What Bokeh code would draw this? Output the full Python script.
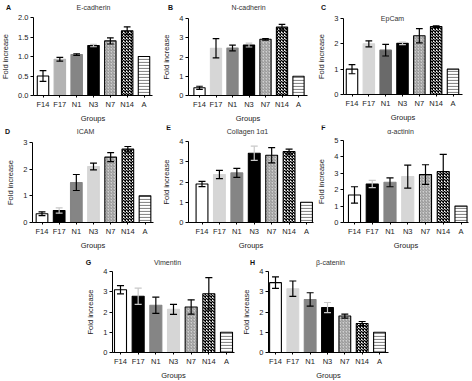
from bokeh.plotting import figure
from bokeh.layouts import column, row
from bokeh.models import Label, FixedTicker, Spacer, ColumnDataSource, Range1d
from bokeh.embed import file_html
from bokeh.resources import INLINE

groups = ["F14", "F17", "N1", "N3", "N7", "N14", "A"]

ecad_mean = [0.50, 0.93, 1.05, 1.28, 1.40, 1.66, 1.00]
ecad_err = [0.14, 0.05, 0.02, 0.03, 0.08, 0.10, 0.0]
ncad_mean = [0.40, 2.45, 2.47, 2.62, 2.92, 3.55, 1.00]
ncad_err = [0.08, 0.50, 0.15, 0.10, 0.04, 0.15, 0.0]
epcam_mean = [1.00, 2.00, 1.75, 2.02, 2.32, 2.68, 1.00]
epcam_err = [0.18, 0.12, 0.23, 0.05, 0.28, 0.03, 0.0]
icam_mean = [0.33, 0.45, 1.50, 2.10, 2.45, 2.75, 1.00]
icam_err = [0.07, 0.10, 0.30, 0.13, 0.17, 0.10, 0.0]
col_mean = [1.90, 2.37, 2.45, 3.42, 3.32, 3.50, 1.00]
col_err = [0.13, 0.20, 0.22, 0.35, 0.38, 0.12, 0.0]
act_mean = [1.68, 2.35, 2.45, 2.80, 2.92, 3.10, 1.00]
act_err = [0.50, 0.22, 0.27, 0.70, 0.60, 1.05, 0.0]
vim_mean = [3.10, 2.78, 2.33, 2.13, 2.25, 2.90, 1.00]
vim_err = [0.20, 0.40, 0.40, 0.25, 0.35, 0.80, 0.0]
bcat_mean = [3.45, 3.15, 2.62, 2.22, 1.80, 1.43, 1.00]
bcat_err = [0.28, 0.38, 0.33, 0.25, 0.10, 0.10, 0.0]

FONT = "Liberation Sans"

STYLES = {
    "white": ("#ffffff", "#000000", " ", "#000000", 1, 1),
    "light": ("#b3b3b3", "#b3b3b3", " ", "#000000", 1, 1),
    "vlight": ("#d6d6d6", "#d6d6d6", " ", "#000000", 1, 1),
    "mid": ("#858585", "#858585", " ", "#000000", 1, 1),
    "dark": ("#6a6a6a", "#6a6a6a", " ", "#000000", 1, 1),
    "black": ("#000000", "#000000", " ", "#000000", 1, 1),
    "hatch": ("#cfcfcf", "#000000", "right_diagonal_line", "#808080", 3, 0.8),
    "check": ("#ffffff", "#000000", "diagonal_cross", "#000000", 3, 1.3),
    "stripe": ("#ffffff", "#000000", "horizontal_line", "#8a8a8a", 3, 1.2),
}

scheme_a = ["white", "light", "mid", "black", "hatch", "check", "stripe"]
scheme_b = ["white", "vlight", "mid", "black", "hatch", "check", "stripe"]
scheme_c = ["white", "vlight", "dark", "black", "hatch", "check", "stripe"]
scheme_d = ["white", "black", "mid", "vlight", "hatch", "check", "stripe"]


def style_axis(ax, label, tick_out, stand, lstand):
    ax.axis_label = label
    ax.minor_tick_line_color = None
    ax.major_tick_in = 0
    ax.major_tick_out = tick_out
    ax.major_label_standoff = stand
    ax.axis_label_standoff = lstand
    ax.major_label_text_font = FONT
    ax.major_label_text_font_size = "7.5px"
    ax.major_label_text_color = "#222222"
    ax.axis_label_text_font = FONT
    ax.axis_label_text_font_size = "7.5px"
    ax.axis_label_text_font_style = "normal"
    ax.axis_label_text_color = "#222222"
    ax.axis_line_color = "#000000"
    ax.major_tick_line_color = "#000000"


def panel(letter, title, means, errs, scheme, ymax, yticks, ylabels, geo):
    # geo: figure box and pixel landmarks (absolute picture pixels)
    fx, fy, w, h = geo["fig"]
    ax_l, ax_r = geo["xaxis"]
    y0px, ytpx = geo["yaxis"]
    c0, c6 = geo["centers"]
    sx = (c6 - c0) / 6.0
    sy = (y0px - ytpx) / ymax
    x_start = -(c0 - fx) / sx
    x_end = 6 + (fx + w - c6) / sx
    y_start = -(fy + h - y0px) / sy
    y_end = ymax + (ytpx - fy) / sy
    axis_x = -(c0 - ax_l) / sx
    axis_xr = 6 + (ax_r - c6) / sx

    p = figure(width=w, height=h, x_range=Range1d(x_start, x_end),
               y_range=Range1d(y_start, y_end), min_border=0,
               output_backend="svg", toolbar_location=None)
    p.outline_line_color = None
    p.xgrid.visible = False
    p.ygrid.visible = False

    xs = list(range(len(groups)))
    st = [STYLES[k] for k in scheme]
    src = ColumnDataSource(dict(
        x=xs, top=means,
        fill=[s[0] for s in st], line=[s[1] for s in st], hp=[s[2] for s in st],
        hc=[s[3] for s in st], hs=[s[4] for s in st], hw=[s[5] for s in st]))
    p.vbar(x="x", top="top", bottom=0, width=0.68, source=src, fill_color="fill",
           line_color="line", line_width=1.1, hatch_pattern="hp", hatch_color="hc",
           hatch_scale="hs", hatch_weight="hw")

    ecol = ["#c8c8c8" if k == "black" else "#000000" for k in scheme]
    keep = [i for i in xs if errs[i] > 0]
    esrc = ColumnDataSource(dict(
        x=[xs[i] for i in keep],
        lo=[means[i] - errs[i] for i in keep],
        hi=[means[i] + errs[i] for i in keep],
        xl=[xs[i] - 0.2 for i in keep], xr=[xs[i] + 0.2 for i in keep],
        c=[ecol[i] for i in keep]))
    p.segment(x0="x", y0="lo", x1="x", y1="hi", line_color="c", line_width=1.2, source=esrc)
    p.segment(x0="xl", y0="hi", x1="xr", y1="hi", line_color="c", line_width=1.2, source=esrc)
    p.segment(x0="xl", y0="lo", x1="xr", y1="lo", line_color="c", line_width=1.2, source=esrc)

    ya = p.yaxis[0]
    ya.fixed_location = axis_x
    ya.bounds = (0, ymax)
    ya.ticker = FixedTicker(ticks=yticks)
    ya.major_label_overrides = {t: l for t, l in zip(yticks, ylabels)}
    style_axis(ya, "Fold increase", 3, 2, 5)

    xa = p.xaxis[0]
    xa.fixed_location = 0
    xa.bounds = (axis_x, axis_xr)
    xa.ticker = FixedTicker(ticks=xs)
    xa.major_label_overrides = {i: g for i, g in zip(xs, groups)}
    style_axis(xa, "Groups", 2, 2, 2)

    lx, ly = geo["letter"]
    tx, ty = geo["title"]
    p.add_layout(Label(x=lx - fx, y=fy + h - ly, x_units="screen", y_units="screen",
                       text=letter, text_font=FONT, text_font_size="7px",
                       text_font_style="bold", text_align="center", text_baseline="middle",
                       text_color="#111111"))
    p.add_layout(Label(x=tx - fx, y=fy + h - ty, x_units="screen", y_units="screen",
                       text=title, text_font=FONT, text_font_size="7px",
                       text_align="center", text_baseline="middle", text_color="#333333"))
    return p


GEO = {
    "A": dict(fig=(0, 0, 155, 125), xaxis=(33, 152), yaxis=(95, 17), centers=(42.5, 143.5),
              letter=(8, 7), title=(93, 7)),
    "B": dict(fig=(155, 0, 155, 125), xaxis=(188, 307), yaxis=(95, 18), centers=(199, 298),
              letter=(170, 7), title=(248, 7)),
    "C": dict(fig=(310, 0, 162, 125), xaxis=(343, 462), yaxis=(94, 18), centers=(351.5, 452.5),
              letter=(323, 7), title=(392, 18)),
    "D": dict(fig=(0, 125, 155, 125), xaxis=(32, 153), yaxis=(222, 142), centers=(41.5, 144.5),
              letter=(7, 131), title=(85, 131)),
    "E": dict(fig=(155, 125, 160, 125), xaxis=(188, 313), yaxis=(222, 141), centers=(201.5, 306),
              letter=(168, 127), title=(247, 131)),
    "F": dict(fig=(315, 125, 157, 125), xaxis=(343, 468), yaxis=(222, 140), centers=(354, 460.5),
              letter=(323, 127), title=(400, 131)),
    "G": dict(fig=(80, 250, 155, 131), xaxis=(112, 234), yaxis=(352, 271), centers=(120, 226),
              letter=(88, 262), title=(167, 262)),
    "H": dict(fig=(235, 250, 160, 131), xaxis=(268, 388), yaxis=(352, 271), centers=(275, 379),
              letter=(252, 262), title=(330, 262)),
}

half = [0, 0.5, 1.0, 1.5, 2.0]
half_l = ["0.0", "0.5", "1.0", "1.5", "2.0"]


def ints(n):
    return list(range(n + 1)), [str(i) for i in range(n + 1)]


pa = panel("A", "E-cadherin", ecad_mean, ecad_err, scheme_a, 2.0, half, half_l, GEO["A"])
pb = panel("B", "N-cadherin", ncad_mean, ncad_err, scheme_b, 4, *ints(4), GEO["B"])
pc = panel("C", "EpCam", epcam_mean, epcam_err, scheme_c, 3, *ints(3), GEO["C"])
pd = panel("D", "ICAM", icam_mean, icam_err, scheme_d, 3, *ints(3), GEO["D"])
pe = panel("E", "Collagen 1\u03b11", col_mean, col_err, scheme_b, 4, *ints(4), GEO["E"])
pf = panel("F", "\u03b1-actinin", act_mean, act_err, scheme_d, 5, *ints(5), GEO["F"])
pg = panel("G", "Vimentin", vim_mean, vim_err, scheme_d, 4, *ints(4), GEO["G"])
ph = panel("H", "\u03b2-catenin", bcat_mean, bcat_err, scheme_b, 4, *ints(4), GEO["H"])

layout = column(
    row(pa, pb, pc),
    row(pd, pe, pf),
    row(Spacer(width=80, height=131), pg, ph),
)

open("out.html", "w").write(file_html(layout, INLINE))
